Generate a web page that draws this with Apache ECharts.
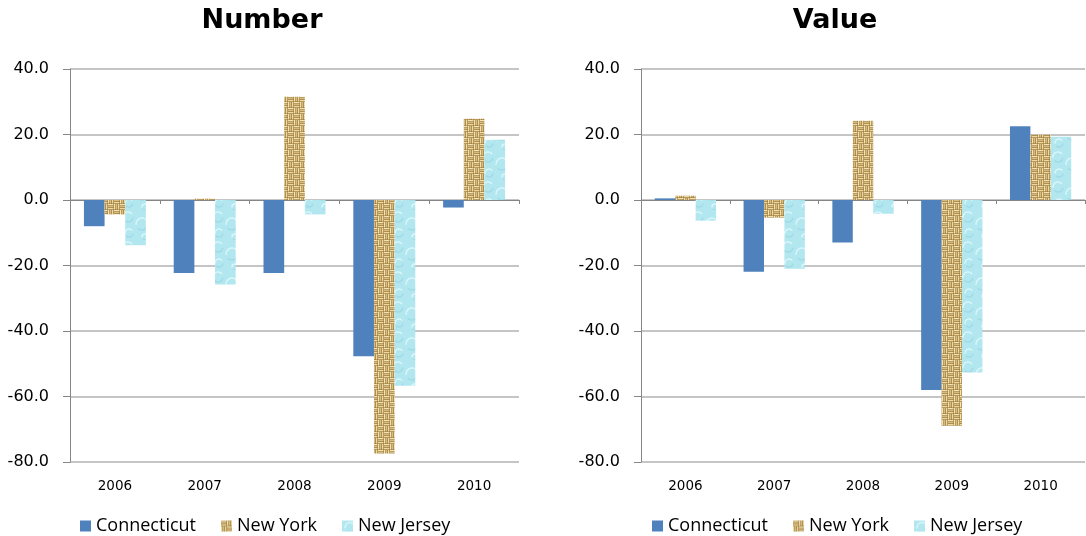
<!DOCTYPE html>
<html>
<head>
<meta charset="utf-8">
<script src="https://cdn.jsdelivr.net/npm/echarts@6/dist/echarts.min.js"></script>
<style>
  html, body { margin: 0; padding: 0; background: #fff; }
  #chart { width: 1086px; height: 536px; }
</style>
</head>
<body>
<div id="chart"></div>
<script>
// Year-over-year change (%) by state
const years = ['2006', '2007', '2008', '2009', '2010'];
const stateNames = ['Connecticut', 'New York', 'New Jersey'];

// "Number" panel
const numberConnecticut = [-8.0, -22.3, -22.3, -47.7, -2.3];
const numberNewYork     = [-4.4, 0.4, 31.5, -77.4, 24.8];
const numberNewJersey   = [-13.8, -25.8, -4.4, -56.7, 18.4];

// "Value" panel
const valueConnecticut = [0.5, -21.9, -13.0, -58.0, 22.5];
const valueNewYork     = [1.3, -5.4, 24.2, -68.9, 19.9];
const valueNewJersey   = [-6.3, -21.0, -4.2, -52.7, 19.3];

const yTicks = { min: -80, max: 40, step: 20 };

// Woven burlap fill: alternating blocks of horizontal and vertical strands
function burlapTile() {
  const c = document.createElement('canvas');
  c.width = 12; c.height = 12;
  const g = c.getContext('2d');
  g.fillStyle = '#93712f';
  g.fillRect(0, 0, 12, 12);
  const shades = ['#f3e2b2', '#d8bd82', '#eed8a2'];
  for (let by = 0; by < 2; by++) {
    for (let bx = 0; bx < 2; bx++) {
      const x0 = bx * 6, y0 = by * 6;
      const horiz = (bx + by) % 2 === 0;
      for (let k = 0; k < 3; k++) {
        g.fillStyle = shades[k];
        if (horiz) g.fillRect(x0, y0 + k * 2, 5.5, 1.4);
        else g.fillRect(x0 + k * 2, y0, 1.4, 5.5);
      }
    }
  }
  return c;
}

// Pale water-droplet fill
function waterTile() {
  const c = document.createElement('canvas');
  c.width = 30; c.height = 30;
  const g = c.getContext('2d');
  g.fillStyle = '#b2e7f0';
  g.fillRect(0, 0, 30, 30);
  const drops = [[8, 7, 5], [22, 14, 6], [9, 23, 4], [25, 27, 3]];
  g.lineWidth = 1.5;
  g.strokeStyle = 'rgba(225,250,253,0.8)';
  drops.forEach(([x, y, r]) => {
    g.beginPath(); g.arc(x, y, r, Math.PI * 0.95, Math.PI * 1.8); g.stroke();
  });
  g.strokeStyle = 'rgba(140,205,218,0.45)';
  drops.forEach(([x, y, r]) => {
    g.beginPath(); g.arc(x, y, r, Math.PI * 0.05, Math.PI * 0.75); g.stroke();
  });
  return c;
}

const fills = [
  '#4f81bd',
  { image: burlapTile(), repeat: 'repeat' },
  { image: waterTile(), repeat: 'repeat' }
];

const font = 'DejaVu Sans';
const grids = [
  { left: 70, right: 567, top: 69, bottom: 74 },
  { left: 641, right: 1, top: 69, bottom: 74 }
];

function panelAxes(gi) {
  const xLine = {
    type: 'category', gridIndex: gi, data: years,
    axisLine: { onZero: true, lineStyle: { color: '#868686', width: 1 } },
    axisTick: { show: true, length: 4, lineStyle: { color: '#868686' } },
    axisLabel: { show: false },
    splitLine: { show: false }
  };
  const xLabels = {
    type: 'category', gridIndex: gi, data: years, position: 'bottom',
    axisLine: { show: false, onZero: false },
    axisTick: { show: false },
    axisLabel: { show: true, margin: 17, fontFamily: font, fontSize: 13.5, color: '#000' },
    splitLine: { show: false }
  };
  const y = {
    type: 'value', gridIndex: gi,
    min: yTicks.min, max: yTicks.max, interval: yTicks.step,
    axisLine: { show: true, lineStyle: { color: '#868686', width: 1 } },
    axisTick: { show: true, length: 7, lineStyle: { color: '#868686' } },
    axisLabel: { margin: 21, fontFamily: font, fontSize: 16, color: '#000',
                 formatter: v => v.toFixed(1) },
    splitLine: { show: true, lineStyle: { color: '#b2b2b2', width: 1.5 } }
  };
  return { xs: [xLine, xLabels], y };
}

const a0 = panelAxes(0), a1 = panelAxes(1);

function bars(name, data, idx, xi, yi) {
  return {
    type: 'bar', name, data,
    xAxisIndex: xi, yAxisIndex: yi,
    barGap: '0%', barCategoryGap: '31%',
    itemStyle: { color: fills[idx] },
    emphasis: { disabled: true }
  };
}

const legendCommon = {
  top: 512, itemWidth: 11, itemHeight: 11, itemGap: 25,
  icon: 'rect',
  textStyle: { fontFamily: 'Open Sans', fontSize: 18, color: '#000' },
  data: stateNames
};

const titleStyle = { fontFamily: font, fontWeight: 'bold', fontSize: 27, color: '#000' };

const option = {
  animation: false,
  title: [
    { text: 'Number', left: 257, top: 2, textAlign: 'center', textStyle: titleStyle },
    { text: 'Value', left: 830, top: 2, textAlign: 'center', textStyle: titleStyle }
  ],
  legend: [
    Object.assign({ left: 75 }, legendCommon),
    Object.assign({ left: 647 }, legendCommon)
  ],
  grid: grids,
  xAxis: [a0.xs[0], a0.xs[1], a1.xs[0], a1.xs[1]],
  yAxis: [a0.y, a1.y],
  series: [
    bars('Connecticut', numberConnecticut, 0, 0, 0),
    bars('New York', numberNewYork, 1, 0, 0),
    bars('New Jersey', numberNewJersey, 2, 0, 0),
    bars('Connecticut', valueConnecticut, 0, 2, 1),
    bars('New York', valueNewYork, 1, 2, 1),
    bars('New Jersey', valueNewJersey, 2, 2, 1)
  ]
};

const chart = echarts.init(document.getElementById('chart'), null, { renderer: 'canvas' });
chart.setOption(option);
</script>
</body>
</html>
